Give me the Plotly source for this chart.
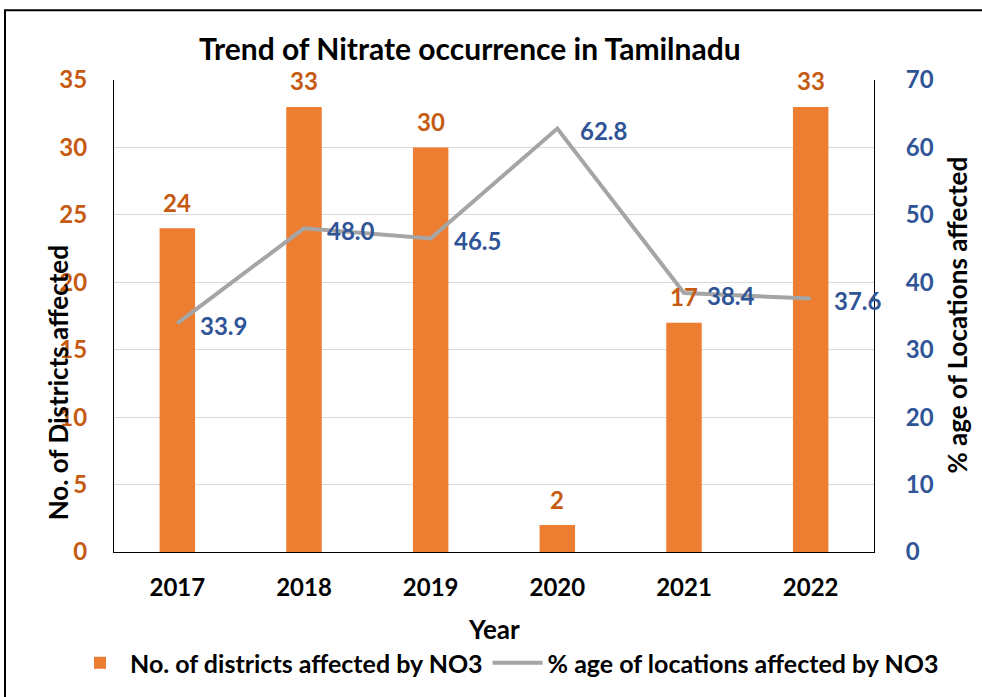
import plotly.graph_objects as go

years = ["2017", "2018", "2019", "2020", "2021", "2022"]
districts = [24, 33, 30, 2, 17, 33]
pct_locations = [33.9, 48.0, 46.5, 62.8, 38.4, 37.6]
left_ticks = [0, 5, 10, 15, 20, 25, 30, 35]
right_ticks = [0, 10, 20, 30, 40, 50, 60, 70]

ORANGE = "#ED7D31"
ORANGE_TXT = "#C55A11"
BLUE_TXT = "#2F5597"
GRAY = "#A5A5A5"
FONT = "Lato"

W, H = 982, 697
L, R, T, B = 114, 874, 80, 553
pw, ph = R - L, B - T

def px_x(p):
    return (p - L) / pw

def px_y(p):
    return (B - p) / ph

def bf(size, color="black"):
    return dict(size=size, color=color, family=FONT, weight="bold")

fig = go.Figure()
fig.add_trace(go.Bar(
    x=years, y=districts, name="No. of districts affected by NO3",
    marker=dict(color=ORANGE, line=dict(width=0)), width=0.28,
    yaxis="y",
))
fig.add_trace(go.Scatter(
    x=years, y=pct_locations, name="% age of locations affected by NO3",
    mode="lines", line=dict(color=GRAY, width=4), yaxis="y2",
    cliponaxis=False,
))

annotations = []
for i, v in enumerate(districts):
    annotations.append(dict(
        x=i, y=v, xref="x", yref="y", text=f"{v}",
        showarrow=False, xanchor="center", yanchor="middle", yshift=26,
        font=bf(24, ORANGE_TXT),
    ))
for i, v in enumerate(pct_locations):
    annotations.append(dict(
        x=i, y=v, xref="x", yref="y2", text=f"{v:.1f}",
        showarrow=False, xanchor="left", yanchor="middle", xshift=21, yshift=-2,
        font=bf(24, BLUE_TXT),
    ))
annotations += [
    dict(x=px_x(470), y=px_y(48), xref="paper", yref="paper", text="Trend of Nitrate occurrence in Tamilnadu",
         showarrow=False, xanchor="center", yanchor="middle", font=bf(30)),
    dict(x=px_x(494), y=px_y(630), xref="paper", yref="paper", text="Year",
         showarrow=False, xanchor="center", yanchor="middle", font=bf(26)),
    dict(x=px_x(58), y=px_y(384), xref="paper", yref="paper", text="No. of Districts affected",
         showarrow=False, xanchor="center", yanchor="middle", textangle=-90, font=bf(26)),
    dict(x=px_x(957), y=px_y(316), xref="paper", yref="paper", text="% age of Locations affected",
         showarrow=False, xanchor="center", yanchor="middle", textangle=-90, font=bf(26)),
]

shapes = [dict(type="rect", xref="paper", yref="paper",
               x0=px_x(5), x1=px_x(1000), y0=px_y(720), y1=px_y(10),
               line=dict(color="black", width=2), fillcolor="rgba(0,0,0,0)", layer="below")]

fig.update_layout(
    width=W, height=H,
    margin=dict(l=L, r=W - R, t=T, b=H - B, pad=0),
    paper_bgcolor="white", plot_bgcolor="white",
    font=dict(family=FONT, color="black"),
    showlegend=True,
    legend=dict(orientation="h", x=px_x(70), y=px_y(663), xanchor="left", yanchor="middle",
                font=bf(25), traceorder="normal", itemwidth=50,
                bgcolor="rgba(0,0,0,0)"),
    xaxis=dict(type="category", range=[-0.5, 5.5], autorange=False,
               showline=True, linecolor="black", linewidth=1,
               tickfont=bf(24), ticks="", ticklabelstandoff=14, showgrid=False),
    yaxis=dict(range=[0, 35], autorange=False, tickvals=left_ticks, showline=True, linecolor="black", linewidth=1,
               showgrid=True, gridcolor="#D9D9D9", gridwidth=1, zeroline=False,
               tickfont=bf(24, ORANGE_TXT), ticks="", ticklabelstandoff=21),
    yaxis2=dict(range=[0, 70], autorange=False, tickvals=right_ticks, overlaying="y", side="right", showline=True,
                linecolor="black", linewidth=1, showgrid=False, zeroline=False,
                tickfont=bf(24, BLUE_TXT), ticks="", ticklabelstandoff=26),
    annotations=annotations,
    shapes=shapes,
)

fig.write_html("out.html", post_script="document.body.style.margin='0';",
               config={"displayModeBar": False})
